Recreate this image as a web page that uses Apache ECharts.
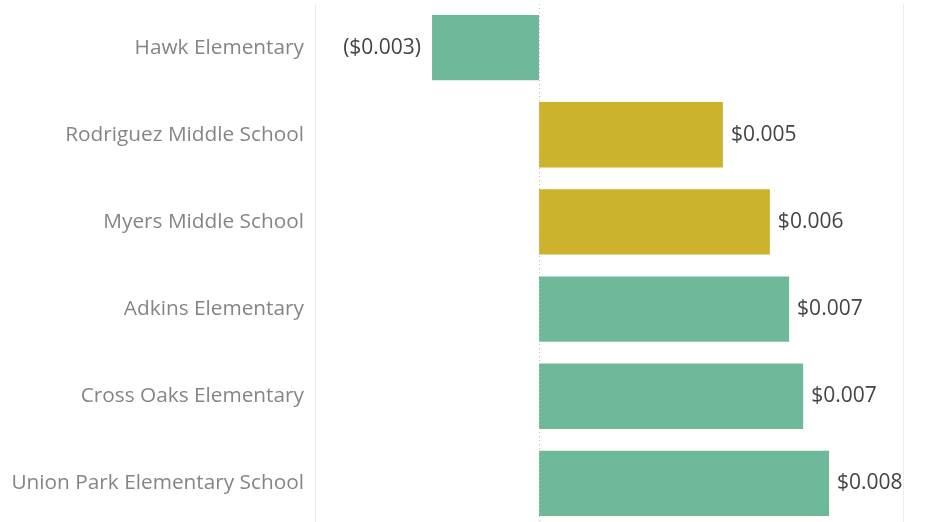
<!DOCTYPE html>
<html>
<head>
<meta charset="utf-8">
<script src="https://cdn.jsdelivr.net/npm/echarts@6/dist/echarts.min.js"></script>
<style>
  html, body { margin: 0; padding: 0; background: #fff; }
  #chart { width: 943px; height: 522px; }
</style>
</head>
<body>
<div id="chart"></div>
<script>
// schools, top to bottom
const schools = [
  'Hawk Elementary',
  'Rodriguez Middle School',
  'Myers Middle School',
  'Adkins Elementary',
  'Cross Oaks Elementary',
  'Union Park Elementary School'
];
const values = [-0.00289, 0.00497, 0.00624, 0.00676, 0.00714, 0.00784];
const levels = ['Elementary', 'Middle', 'Middle', 'Elementary', 'Elementary', 'Elementary'];

const levelColors = { Elementary: '#6eb99a', Middle: '#cdb22b' };

const fmt = (v) => {
  const s = '$' + Math.abs(v).toFixed(3);
  return v < 0 ? '(' + s + ')' : s;
};

const chart = echarts.init(document.getElementById('chart'));

const option = {
  animation: false,
  grid: { left: 315, right: 40, top: 4, height: 523, outerBoundsMode: 'none' },
  xAxis: {
    type: 'value',
    min: -0.006054,
    max: 0.009838,
    show: false
  },
  yAxis: [
    {
      type: 'category',
      inverse: true,
      data: schools,
      axisLine: { onZero: false, lineStyle: { color: '#ebebeb', width: 1 } },
      axisTick: { show: false },
      axisLabel: {
        margin: 11,
        padding: [4, 0, 0, 0],
        color: '#858585',
        fontFamily: 'Open Sans',
        fontSize: 20.8
      }
    },
    {
      type: 'category',
      inverse: true,
      position: 'right',
      data: schools,
      axisLine: { onZero: false, lineStyle: { color: '#ebebeb', width: 1 } },
      axisTick: { show: false },
      axisLabel: { show: false }
    }
  ],
  series: [
    {
      type: 'bar',
      barCategoryGap: '25%',
      data: values.map((v, i) => ({
        value: v,
        itemStyle: { color: levelColors[levels[i]] },
        label: { position: v < 0 ? 'left' : 'right', distance: v < 0 ? 11 : 8 }
      })),
      label: {
        show: true,
        padding: [3, 0, 0, 0],
        color: '#444',
        fontFamily: 'Open Sans',
        fontSize: 21,
        formatter: (p) => fmt(p.value)
      },
      markLine: {
        silent: true,
        symbol: 'none',
        label: { show: false },
        lineStyle: { color: '#bdbdbd', type: [1, 3], width: 1 },
        data: [{ xAxis: 0 }]
      }
    }
  ]
};

option && chart.setOption(option);
</script>
</body>
</html>
